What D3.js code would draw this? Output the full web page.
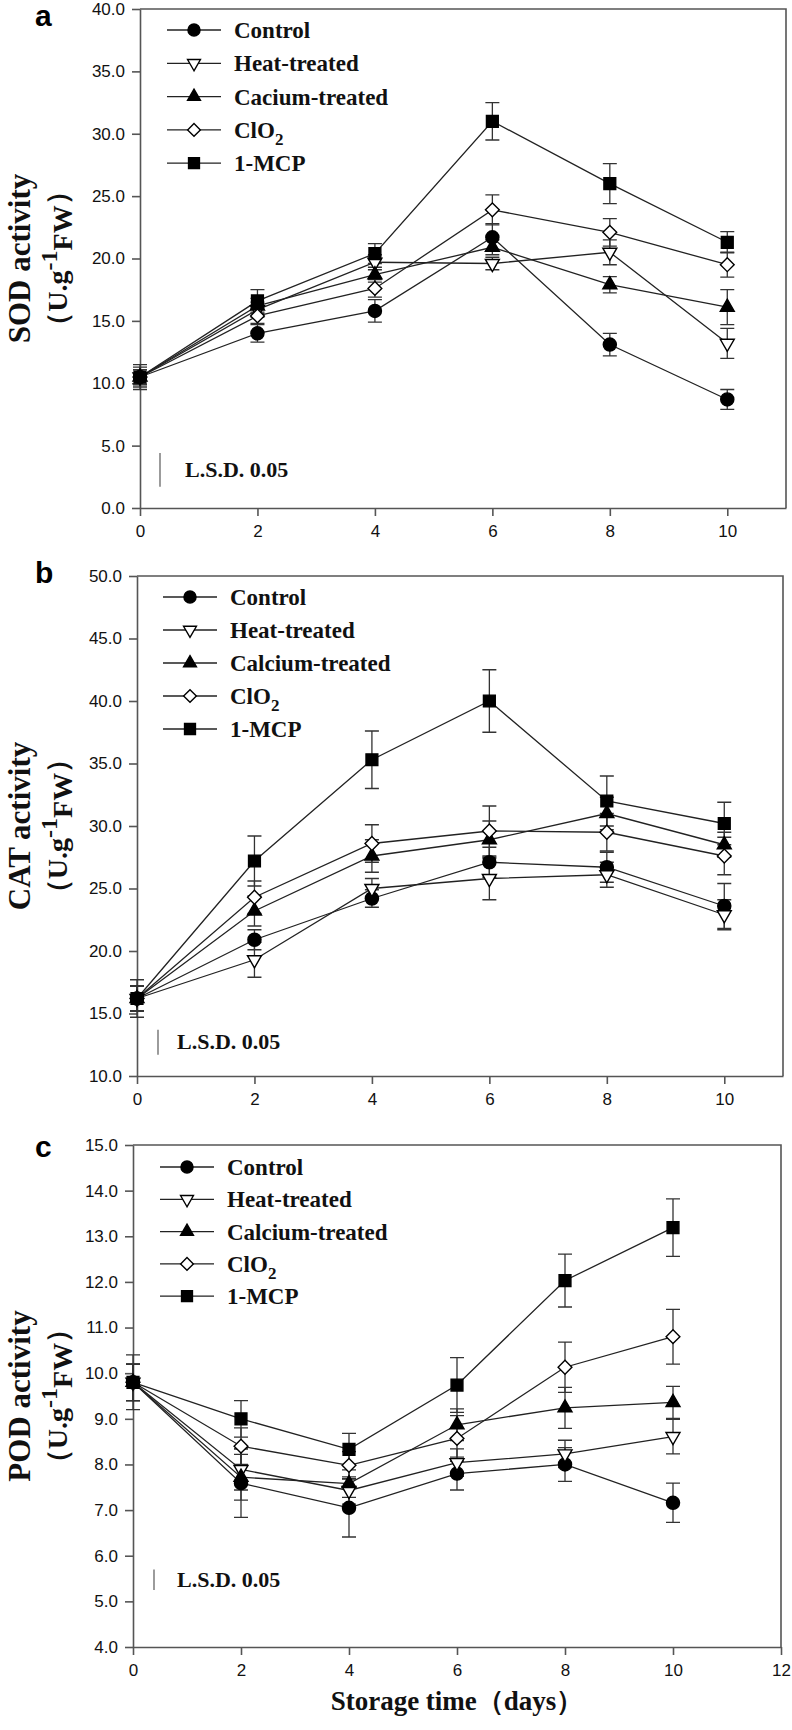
<!DOCTYPE html>
<html lang="en">
<head>
  <meta charset="utf-8">
  <title>SOD, CAT and POD activity during storage</title>
  <script src="https://d3js.org/d3.v7.min.js"></script>
  <style>
  body { margin: 0; background: #fff; }
  svg { display: block; }
  .tick text { font: 17px "Liberation Sans", Arial, sans-serif; fill: #111; }
  .tick line, .domain { stroke: #555; stroke-width: 1.6; }
  .serif { font-family: "Liberation Serif", "Times New Roman", serif; font-weight: bold; fill: #111; }
  </style>
</head>
<body>
<div id="chart"></div>
<script>
// storage days (x values)
var days = [0, 2, 4, 6, 8, 10];

var namesA = ["Control", "Heat-treated", "Cacium-treated", "ClO2", "1-MCP"];
var namesBC = ["Control", "Heat-treated", "Calcium-treated", "ClO2", "1-MCP"];

// a: SOD activity
var sodControl = [10.5, 14.0, 15.8, 21.7, 13.1, 8.7];
var sodHeat    = [10.5, 15.9, 19.7, 19.6, 20.5, 13.2];
var sodCalcium = [10.5, 16.2, 18.7, 20.9, 17.9, 16.1];
var sodClO2    = [10.5, 15.4, 17.6, 23.9, 22.1, 19.5];
var sodMCP     = [10.5, 16.6, 20.4, 31.0, 26.0, 21.3];
var sodControlErr = [1.0, 0.7, 0.9, 1.1, 0.9, 0.8];
var sodHeatErr    = [0.6, 0.6, 0.6, 0.5, 1.0, 1.2];
var sodCalciumErr = [0.6, 0.6, 0.6, 0.6, 0.65, 1.4];
var sodClO2Err    = [0.6, 0.6, 0.7, 1.2, 1.1, 1.0];
var sodMCPErr     = [0.8, 0.9, 0.8, 1.5, 1.6, 0.85];
var lsdSOD = 2.7;

// b: CAT activity
var catControl = [16.2, 20.9, 24.2, 27.1, 26.7, 23.6];
var catHeat    = [16.2, 19.3, 25.0, 25.8, 26.1, 22.9];
var catCalcium = [16.2, 23.2, 27.6, 28.9, 31.0, 28.5];
var catClO2    = [16.2, 24.3, 28.6, 29.6, 29.5, 27.6];
var catMCP     = [16.2, 27.2, 35.3, 40.0, 32.0, 30.2];
var catControlErr = [1.5, 0.8, 0.7, 1.2, 1.2, 1.8];
var catHeatErr    = [1.0, 1.4, 0.8, 1.7, 1.0, 1.2];
var catCalciumErr = [1.0, 1.2, 1.3, 1.5, 1.3, 1.0];
var catClO2Err    = [1.0, 1.3, 1.5, 2.0, 1.5, 1.5];
var catMCPErr     = [1.0, 2.0, 2.3, 2.5, 2.0, 1.7];
var lsdCAT = 2.0;

// c: POD activity
var podControl = [9.8, 7.59, 7.05, 7.80, 8.00, 7.16];
var podHeat    = [9.8, 7.89, 7.43, 8.04, 8.23, 8.61];
var podCalcium = [9.8, 7.72, 7.58, 8.87, 9.24, 9.36];
var podClO2    = [9.8, 8.40, 7.98, 8.57, 10.13, 10.80];
var podMCP     = [9.8, 9.00, 8.33, 9.74, 12.03, 13.19];
var podControlErr = [0.6, 0.75, 0.64, 0.36, 0.37, 0.43];
var podHeatErr    = [0.4, 0.45, 0.3, 0.3, 0.3, 0.38];
var podCalciumErr = [0.4, 0.5, 0.3, 0.35, 0.45, 0.35];
var podClO2Err    = [0.4, 0.4, 0.3, 0.5, 0.55, 0.6];
var podMCPErr     = [0.4, 0.4, 0.35, 0.6, 0.58, 0.63];
var lsdPOD = 0.45;

var yTicksSOD = d3.range(0, 40.1, 5);
var yTicksCAT = d3.range(10, 50.1, 5);
var yTicksPOD = d3.range(4, 15.1, 1);
var xTicksAB = [0, 2, 4, 6, 8, 10];
var xTicksC = [0, 2, 4, 6, 8, 10, 12];

var panels = [
  { letter: "a", label: "SOD activity", names: namesA,
    values: [sodControl, sodHeat, sodCalcium, sodClO2, sodMCP],
    errors: [sodControlErr, sodHeatErr, sodCalciumErr, sodClO2Err, sodMCPErr],
    yDomain: [0, 40], yTicks: yTicksSOD, xDomain: [0, 11], xTicks: xTicksAB,
    lsd: lsdSOD, lsdBase: 1.7,
    left: 140, right: 786, top: 9, bottom: 508,
    legX: 167, legY: 30, legStep: 33.3, lsdX: 160, lsdTextX: 185, letterY: 26 },
  { letter: "b", label: "CAT activity", names: namesBC,
    values: [catControl, catHeat, catCalcium, catClO2, catMCP],
    errors: [catControlErr, catHeatErr, catCalciumErr, catClO2Err, catMCPErr],
    yDomain: [10, 50], yTicks: yTicksCAT, xDomain: [0, 11], xTicks: xTicksAB,
    lsd: lsdCAT, lsdBase: 11.7,
    left: 137, right: 783, top: 576, bottom: 1076,
    legX: 163, legY: 597, legStep: 33, lsdX: 158, lsdTextX: 177, letterY: 583 },
  { letter: "c", label: "POD activity", names: namesBC,
    values: [podControl, podHeat, podCalcium, podClO2, podMCP],
    errors: [podControlErr, podHeatErr, podCalciumErr, podClO2Err, podMCPErr],
    yDomain: [4, 15], yTicks: yTicksPOD, xDomain: [0, 12], xTicks: xTicksC,
    lsd: lsdPOD, lsdBase: 5.25,
    left: 133, right: 781, top: 1145, bottom: 1647,
    legX: 160, legY: 1167, legStep: 32.3, lsdX: 154, lsdTextX: 177, letterY: 1157 }
];

// marker for each treatment: shape, fill, size, rotation
var markers = [
  { type: d3.symbolCircle,   fill: "#000", size: 135, rot: 0 },
  { type: d3.symbolTriangle, fill: "#fff", size: 85,  rot: 180 },
  { type: d3.symbolTriangle, fill: "#000", size: 85,  rot: 0 },
  { type: d3.symbolSquare,   fill: "#fff", size: 95,  rot: 45 },
  { type: d3.symbolSquare,   fill: "#000", size: 140, rot: 0 }
];

var width = 792, height = 1730;
var svg = d3.select("#chart").append("svg")
  .attr("width", width)
  .attr("height", height);

function drawMarker(g, m, x, y, scale) {
  g.append("path")
    .attr("d", d3.symbol().type(m.type).size(m.size * (scale || 1))())
    .attr("transform", "translate(" + x + "," + y + ") rotate(" + m.rot + ")")
    .attr("fill", m.fill)
    .attr("stroke", "#000")
    .attr("stroke-width", 1.4);
}

function addName(sel, name) {
  if (name === "ClO2") {
    sel.text("ClO");
    sel.append("tspan").attr("dy", 7).attr("font-size", 17).text("2");
  } else {
    sel.text(name);
  }
}

panels.forEach(function(p) {
  var x = d3.scaleLinear().domain(p.xDomain).range([p.left, p.right]);
  var y = d3.scaleLinear().domain(p.yDomain).range([p.bottom, p.top]);
  var g = svg.append("g");

  // frame (top and right)
  g.append("path")
    .attr("d", "M" + p.left + "," + p.top + "H" + p.right + "V" + p.bottom)
    .attr("fill", "none").attr("stroke", "#555").attr("stroke-width", 1.6);

  g.append("g")
    .attr("transform", "translate(0," + p.bottom + ")")
    .call(d3.axisBottom(x).tickValues(p.xTicks).tickSize(8).tickPadding(9).tickSizeOuter(0));
  g.append("g")
    .attr("transform", "translate(" + p.left + ",0)")
    .call(d3.axisLeft(y).tickValues(p.yTicks).tickFormat(d3.format(".1f")).tickSize(8).tickPadding(7).tickSizeOuter(0));

  // series: lines and error bars, markers on top
  var line = d3.line().x(function(d) { return x(d[0]); }).y(function(d) { return y(d[1]); });
  p.values.forEach(function(vals, i) {
    var pts = days.map(function(d, k) { return [d, vals[k], p.errors[i][k]]; });
    g.append("path").datum(pts)
      .attr("d", line)
      .attr("fill", "none").attr("stroke", "#222").attr("stroke-width", 1.3);
    pts.forEach(function(pt) {
      var cx = x(pt[0]), y1 = y(pt[1] + pt[2]), y2 = y(pt[1] - pt[2]);
      g.append("path")
        .attr("d", "M" + cx + "," + y1 + "V" + y2 + "M" + (cx - 7) + "," + y1 + "H" + (cx + 7) + "M" + (cx - 7) + "," + y2 + "H" + (cx + 7))
        .attr("fill", "none").attr("stroke", "#333").attr("stroke-width", 1.3);
    });
  });
  p.values.forEach(function(vals, i) {
    days.forEach(function(d, k) { drawMarker(g, markers[i], x(d), y(vals[k])); });
  });

  // legend
  p.names.forEach(function(name, i) {
    var ly = p.legY + i * p.legStep;
    g.append("line")
      .attr("x1", p.legX).attr("x2", p.legX + 54).attr("y1", ly).attr("y2", ly)
      .attr("stroke", "#222").attr("stroke-width", 1.3);
    drawMarker(g, markers[i], p.legX + 27, ly, 0.85);
    var t = g.append("text").attr("class", "serif")
      .attr("x", p.legX + 67).attr("y", ly + 8)
      .attr("font-size", 23);
    addName(t, name);
  });

  // L.S.D. bar
  g.append("line")
    .attr("x1", p.lsdX).attr("x2", p.lsdX)
    .attr("y1", y(p.lsdBase)).attr("y2", y(p.lsdBase + p.lsd))
    .attr("stroke", "#666").attr("stroke-width", 1.3);
  g.append("text").attr("class", "serif")
    .attr("x", p.lsdTextX).attr("y", (y(p.lsdBase) + y(p.lsdBase + p.lsd)) / 2 + 7)
    .attr("font-size", 22)
    .text("L.S.D. 0.05");

  // panel letter
  svg.append("text")
    .attr("x", 35).attr("y", p.letterY)
    .attr("font-family", "'Liberation Sans', Arial, sans-serif")
    .attr("font-weight", "bold").attr("font-size", 30)
    .text(p.letter);

  // y label (two lines)
  var cy = (p.top + p.bottom) / 2;
  svg.append("text").attr("class", "serif")
    .attr("transform", "translate(30," + cy + ") rotate(-90)")
    .attr("text-anchor", "middle").attr("font-size", 31)
    .text(p.label);
  var t2 = svg.append("text").attr("class", "serif")
    .attr("transform", "translate(67," + cy + ") rotate(-90)")
    .attr("text-anchor", "middle").attr("font-size", 28);
  t2.append("tspan").text("（U.g");
  t2.append("tspan").attr("dy", -10).attr("font-size", 24).text("-1");
  t2.append("tspan").attr("dy", 15).text("FW");
  t2.append("tspan").attr("dy", -5).text("）");
});

// x title
svg.append("text").attr("class", "serif")
  .attr("x", 457).attr("y", 1710)
  .attr("text-anchor", "middle").attr("font-size", 27)
  .text("Storage time（days）");
</script>
</body>
</html>
